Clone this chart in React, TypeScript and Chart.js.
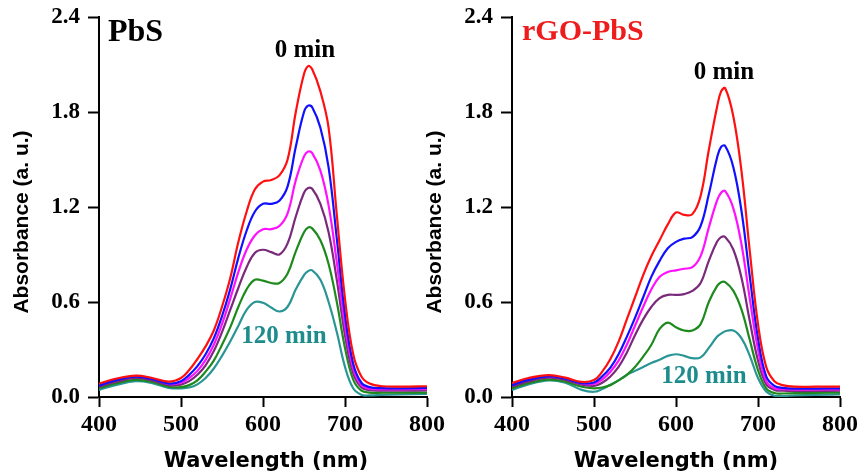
import React, { useEffect, useRef } from "react";
import { Chart, registerables } from "chart.js";

Chart.register(...registerables);

// Wavelength grid (nm) shared by every spectrum
const wavelengths = [400, 420, 445, 465, 485, 500, 510, 520, 530, 540, 550, 560, 570, 580, 590, 600, 610, 620, 630, 640, 650, 655, 660, 670, 680, 690, 700, 710, 720, 730, 745, 770, 800];

const seriesNames = ["0 min", "Spectrum 2", "Spectrum 3", "Spectrum 4", "Spectrum 5", "120 min"];
const seriesColors = ["#ff1010", "#1010ff", "#ff10ff", "#7a2a7a", "#1e8a1e", "#2a9595"];

// PbS panel absorbance
const pbs0 = [0.085, 0.115, 0.135, 0.12, 0.097, 0.12, 0.17, 0.24, 0.32, 0.42, 0.57, 0.75, 0.98, 1.17, 1.31, 1.36, 1.37, 1.40, 1.50, 1.80, 2.04, 2.09, 2.07, 1.93, 1.70, 1.15, 0.62, 0.27, 0.13, 0.085, 0.068, 0.066, 0.068];
const pbs1 = [0.072, 0.105, 0.128, 0.112, 0.085, 0.10, 0.14, 0.195, 0.27, 0.37, 0.51, 0.68, 0.88, 1.05, 1.17, 1.22, 1.22, 1.24, 1.33, 1.58, 1.80, 1.84, 1.83, 1.70, 1.45, 1.00, 0.52, 0.21, 0.09, 0.062, 0.056, 0.055, 0.057];
const pbs2 = [0.078, 0.11, 0.13, 0.115, 0.083, 0.09, 0.12, 0.165, 0.235, 0.33, 0.46, 0.62, 0.79, 0.93, 1.02, 1.06, 1.06, 1.08, 1.16, 1.37, 1.52, 1.55, 1.54, 1.43, 1.21, 0.85, 0.45, 0.18, 0.075, 0.053, 0.048, 0.048, 0.05];
const pbs3 = [0.065, 0.095, 0.12, 0.105, 0.075, 0.078, 0.10, 0.14, 0.20, 0.29, 0.41, 0.55, 0.69, 0.82, 0.91, 0.93, 0.915, 0.90, 0.97, 1.14, 1.29, 1.32, 1.315, 1.22, 1.04, 0.74, 0.39, 0.15, 0.06, 0.043, 0.04, 0.04, 0.042];
const pbs4 = [0.055, 0.085, 0.108, 0.095, 0.065, 0.062, 0.075, 0.105, 0.16, 0.23, 0.33, 0.44, 0.57, 0.68, 0.74, 0.735, 0.72, 0.72, 0.78, 0.92, 1.04, 1.07, 1.065, 0.99, 0.84, 0.60, 0.31, 0.11, 0.04, 0.028, 0.027, 0.027, 0.028];
const pbs5 = [0.045, 0.075, 0.10, 0.088, 0.058, 0.055, 0.06, 0.08, 0.12, 0.18, 0.26, 0.35, 0.45, 0.55, 0.60, 0.595, 0.565, 0.54, 0.57, 0.68, 0.77, 0.795, 0.80, 0.74, 0.60, 0.41, 0.19, 0.055, 0.014, 0.01, 0.013, 0.017, 0.02];

// rGO-PbS panel absorbance
const rgo0 = [0.088, 0.12, 0.138, 0.122, 0.095, 0.107, 0.16, 0.24, 0.35, 0.49, 0.63, 0.77, 0.89, 0.99, 1.09, 1.165, 1.15, 1.155, 1.27, 1.56, 1.83, 1.93, 1.95, 1.77, 1.42, 0.92, 0.46, 0.19, 0.10, 0.075, 0.065, 0.065, 0.066];
const rgo1 = [0.075, 0.108, 0.13, 0.115, 0.088, 0.092, 0.13, 0.185, 0.27, 0.38, 0.50, 0.63, 0.76, 0.86, 0.94, 0.98, 1.0, 1.01, 1.08, 1.28, 1.51, 1.58, 1.585, 1.45, 1.17, 0.76, 0.37, 0.13, 0.07, 0.058, 0.053, 0.053, 0.055];
const rgo2 = [0.08, 0.112, 0.132, 0.117, 0.085, 0.082, 0.11, 0.16, 0.23, 0.33, 0.45, 0.57, 0.68, 0.76, 0.79, 0.80, 0.81, 0.82, 0.89, 1.07, 1.24, 1.29, 1.30, 1.19, 0.96, 0.62, 0.30, 0.10, 0.055, 0.05, 0.047, 0.047, 0.048];
const rgo3 = [0.066, 0.098, 0.122, 0.108, 0.078, 0.07, 0.09, 0.13, 0.19, 0.28, 0.39, 0.49, 0.57, 0.625, 0.645, 0.645, 0.65, 0.67, 0.72, 0.86, 0.98, 1.01, 1.01, 0.93, 0.75, 0.48, 0.23, 0.08, 0.045, 0.04, 0.038, 0.038, 0.04];
const rgo4 = [0.055, 0.088, 0.11, 0.097, 0.065, 0.055, 0.06, 0.075, 0.105, 0.14, 0.19, 0.255, 0.33, 0.43, 0.47, 0.44, 0.42, 0.42, 0.46, 0.60, 0.70, 0.725, 0.725, 0.67, 0.55, 0.36, 0.17, 0.055, 0.025, 0.022, 0.024, 0.026, 0.028];
const rgo5 = [0.044, 0.08, 0.105, 0.09, 0.045, 0.033, 0.05, 0.078, 0.105, 0.14, 0.165, 0.19, 0.215, 0.235, 0.26, 0.27, 0.26, 0.245, 0.25, 0.31, 0.38, 0.40, 0.415, 0.42, 0.37, 0.26, 0.12, 0.035, 0.008, 0.006, 0.01, 0.014, 0.016];

const yTicks = [0, 0.6, 1.2, 1.8, 2.4];
const xTicks = [400, 500, 600, 700, 800];

const SERIF = "'Liberation Serif', 'Times New Roman', serif";
const SANS = "'Liberation Sans', Arial, sans-serif";

type TextItem = {
  text: string;
  x: number;
  y: number;
  font: string;
  color: string;
  align: CanvasTextAlign;
  rotate?: boolean;
};

const textPlugin = {
  id: "panelText",
  afterDraw(chart: any, _args: any, opts: any) {
    const ctx = chart.ctx as CanvasRenderingContext2D;
    const items: TextItem[] = opts.items || [];
    for (const it of items) {
      ctx.save();
      ctx.font = it.font;
      ctx.fillStyle = it.color;
      ctx.textAlign = it.align;
      if (it.rotate) {
        ctx.translate(it.x, it.y);
        ctx.rotate(-Math.PI / 2);
        ctx.textBaseline = "middle";
        ctx.fillText(it.text, 0, 0);
      } else {
        ctx.textBaseline = "alphabetic";
        ctx.fillText(it.text, it.x, it.y);
      }
      ctx.restore();
    }
  },
};

function buildConfig(series: number[][], items: TextItem[]): any {
  return {
    type: "line",
    data: {
      datasets: series.map((vals, i) => ({
        label: seriesNames[i],
        data: wavelengths.map((w, k) => ({ x: w, y: vals[k] })),
        borderColor: seriesColors[i],
        backgroundColor: seriesColors[i],
        borderWidth: 2.2,
        pointRadius: 0,
        fill: false,
        tension: 0.4,
      })),
    },
    options: {
      animation: false,
      responsive: false,
      devicePixelRatio: 1,
      layout: { padding: { left: 0, right: 21, top: 17, bottom: 0 } },
      plugins: {
        legend: { display: false },
        tooltip: { enabled: false },
        panelText: { items },
      },
      scales: {
        x: {
          type: "linear",
          min: 400,
          max: 800,
          afterBuildTicks(scale: any) {
            scale.ticks = xTicks.map((v) => ({ value: v }));
          },
          afterFit(scale: any) {
            scale.height = 78;
            scale.paddingLeft = 0;
            scale.paddingRight = 0;
          },
          grid: {
            display: true,
            drawOnChartArea: false,
            drawTicks: true,
            tickLength: 10,
            tickColor: "#000",
            tickWidth: 2,
          },
          border: { display: true, color: "#000", width: 2 },
          ticks: {
            color: "#000",
            padding: 3,
            maxRotation: 0,
            font: { family: SERIF, size: 24, weight: "bold" },
          },
        },
        y: {
          type: "linear",
          min: 0,
          max: 2.4,
          afterBuildTicks(scale: any) {
            scale.ticks = yTicks.map((v) => ({ value: v }));
          },
          afterFit(scale: any) {
            scale.width = 99;
            scale.paddingTop = 0;
            scale.paddingBottom = 0;
          },
          grid: {
            display: true,
            drawOnChartArea: false,
            drawTicks: true,
            tickLength: 11,
            tickColor: "#000",
            tickWidth: 2,
          },
          border: { display: true, color: "#000", width: 2 },
          ticks: {
            color: "#000",
            padding: 8,
            font: { family: SERIF, size: 23, weight: "bold" },
            callback: (v: any) => Number(v).toFixed(1),
          },
        },
      },
    },
    plugins: [textPlugin],
  };
}

function Panel(props: { left: number; series: number[][]; items: TextItem[] }) {
  const ref = useRef<HTMLCanvasElement>(null);
  useEffect(() => {
    if (!ref.current) return;
    const chart = new Chart(ref.current, buildConfig(props.series, props.items));
    return () => chart.destroy();
  }, []);
  return (
    <canvas
      ref={ref}
      width={448}
      height={475}
      style={{ position: "absolute", left: props.left, top: 0, width: 448, height: 475 }}
    />
  );
}

const commonTitles = (xCenter: number): TextItem[] => [
  { text: "Absorbance (a. u.)", x: 22, y: 222, font: `bold 21px ${SANS}`, color: "#000", align: "center", rotate: true },
  { text: "Wavelength (nm)", x: xCenter, y: 467, font: `bold 21px 'DejaVu Sans', ${SANS}`, color: "#000", align: "center" },
];

export default function App() {
  const leftItems: TextItem[] = [
    { text: "PbS", x: 108, y: 41, font: `bold 32px ${SERIF}`, color: "#000", align: "left" },
    { text: "0 min", x: 305, y: 57, font: `bold 25px ${SERIF}`, color: "#000", align: "center" },
    { text: "120 min", x: 284, y: 343, font: `bold 25px ${SERIF}`, color: "#1e8c8c", align: "center" },
    ...commonTitles(266),
  ];
  const rightItems: TextItem[] = [
    { text: "rGO-PbS", x: 109, y: 40, font: `bold 30px ${SERIF}`, color: "#ee1c1c", align: "left" },
    { text: "0 min", x: 311, y: 79, font: `bold 25px ${SERIF}`, color: "#000", align: "center" },
    { text: "120 min", x: 291, y: 383, font: `bold 25px ${SERIF}`, color: "#1e8c8c", align: "center" },
    ...commonTitles(263),
  ];
  return (
    <div style={{ position: "absolute", left: 0, top: 0, width: 861, height: 475, background: "#fff", overflow: "hidden" }}>
      <Panel left={0} series={[pbs0, pbs1, pbs2, pbs3, pbs4, pbs5]} items={leftItems} />
      <Panel left={413} series={[rgo0, rgo1, rgo2, rgo3, rgo4, rgo5]} items={rightItems} />
    </div>
  );
}
